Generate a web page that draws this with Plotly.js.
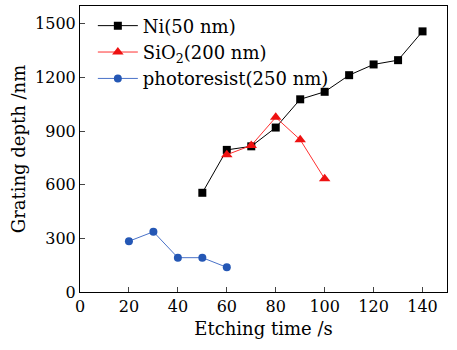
<!DOCTYPE html>
<html><head><meta charset="utf-8">
<script src="https://cdn.plot.ly/plotly-3.0.1.min.js"></script>
<style>html,body{margin:0;padding:0;background:#fff}#c{width:457px;height:350px}</style>
</head><body><div id="c"></div>
<script>
const niTime = [50, 60, 70, 80, 90, 100, 110, 120, 130, 140];
const niDepth = [555, 795, 815, 920, 1078, 1120, 1213, 1273, 1297, 1458];
const sioTime = [60, 70, 80, 90, 100];
const sioDepth = [768, 820, 977, 852, 633];
const prTime = [20, 30, 40, 50, 60];
const prDepth = [284, 337, 192, 192, 138];
const names = ["Ni(50 nm)", "SiO<sub>2</sub>(200 nm)", "photoresist(250 nm)"];
const xTicks = [0, 20, 40, 60, 80, 100, 120, 140];
const yTicks = [0, 300, 600, 900, 1200, 1500];

const fam = "DejaVu Serif, Liberation Serif, serif";
const font = {family: fam, size: 18, color: "#000"};
const tfont = {family: fam, size: 16, color: "#000"};
const data = [
  {x: niTime, y: niDepth, name: names[0], mode: "lines+markers", type: "scatter",
   line: {color: "#000", width: 1}, marker: {symbol: "square", size: 8, color: "#000"}},
  {x: sioTime, y: sioDepth, name: names[1], mode: "lines+markers", type: "scatter",
   line: {color: "#ff3030", width: 1}, marker: {symbol: "triangle-up", size: 10, color: "#ee1111"}},
  {x: prTime, y: prDepth, name: names[2], mode: "lines+markers", type: "scatter",
   line: {color: "#4a72c8", width: 1}, marker: {symbol: "circle", size: 8, color: "#2457b5"}}
];
const layout = {
  width: 457, height: 350,
  margin: {l: 80, r: 10, t: 6, b: 58},
  paper_bgcolor: "#fff", plot_bgcolor: "#fff",
  font: font,
  showlegend: true,
  legend: {x: 0.035, y: 0.995, xanchor: "left", yanchor: "top", bgcolor: "rgba(0,0,0,0)",
           font: font, itemwidth: 40, tracegroupgap: 0},
  xaxis: {range: [0, 150], tickvals: xTicks, ticks: "inside", ticklen: 5, showgrid: false,
          zeroline: false, showline: true, mirror: true, linecolor: "#000", linewidth: 1,
          title: {text: "Etching time /s", font: font, standoff: 7}, tickfont: tfont},
  yaxis: {range: [0, 1600], tickvals: yTicks, ticks: "inside", ticklen: 5, showgrid: false,
          zeroline: false, showline: true, mirror: true, linecolor: "#000", linewidth: 1,
          title: {text: "Grating depth /nm", font: font, standoff: 4}, tickfont: tfont}
};
Plotly.newPlot("c", data, layout, {staticPlot: true});
</script></body></html>
